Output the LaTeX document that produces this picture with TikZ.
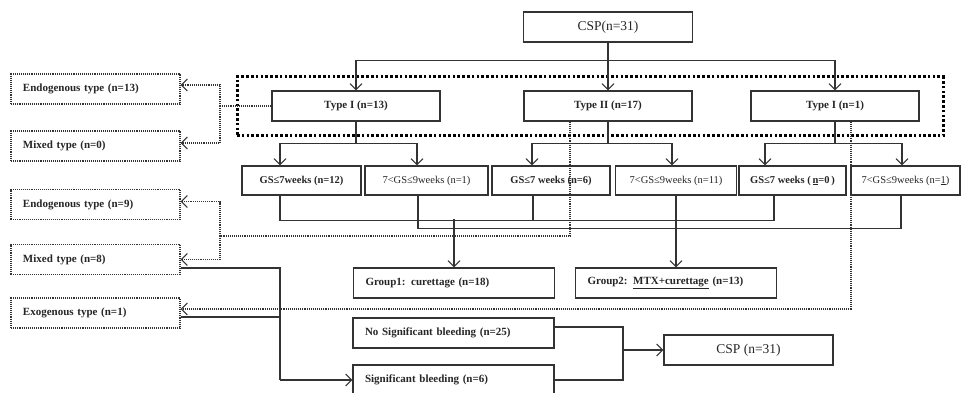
\documentclass[tikz,border=0pt]{standalone}
\usepackage{fontspec}
\setmainfont{Liberation Serif}
\usetikzlibrary{arrows.meta}

\begin{document}
\begin{tikzpicture}[x=1pt, y=-1pt, line width=1.1pt, draw=black!80,
  >={Straight Barb[length=6pt,width=12pt]},
  every node/.style={draw, inner sep=0pt, minimum height=30pt, text=black!85},
  mainbox/.style={font=\fontsize{13.5}{15}\selectfont, minimum width=169pt},
  typebox/.style={font=\bfseries\fontsize{11}{13}\selectfont, minimum width=168pt},
  gsbold/.style={font=\bfseries\fontsize{10.5}{12}\selectfont, minimum height=29pt},
  gsplain/.style={font=\fontsize{10.5}{12}\selectfont, minimum height=29pt},
  groupbox/.style={font=\bfseries\fontsize{11}{13}\selectfont, text width=177pt, inner xsep=12pt, align=left},
  sidebox/.style={densely dotted, font=\bfseries\fontsize{11}{13}\selectfont, text width=145pt, inner xsep=12pt, align=left},
  framebox/.style={draw=black, line width=3pt, dash pattern=on 2.6pt off 2.2pt, minimum width=706pt, minimum height=59pt},
  dotline/.style={densely dotted}]
  \useasboundingbox (0,0) rectangle (961,393);

  % Top
  \node[mainbox] (csp) at (608,27) {CSP(n=31)};

  % Types
  \node[framebox] (frame) at (590,106.5) {};
  \node[typebox] (type1) at (356,106) {Type I (n=13)};
  \node[typebox] (type2) at (608,106) {Type II (n=17)};
  \node[typebox] (type3) at (835,106) {Type I (n=1)};

  % Gestational sac
  \node[gsbold, minimum width=119pt] (gs1) at (301.5,180.5) {GS≤7weeks (n=12)};
  \node[gsplain, minimum width=123pt] (gs2) at (426.5,180.5) {7<GS≤9weeks (n=1)};
  \node[gsbold, minimum width=118pt] (gs3) at (551,180.5) {GS≤7 weeks (n=6)};
  \node[gsplain, minimum width=121pt] (gs4) at (676,180.5) {7<GS≤9weeks (n=11)};
  \node[gsbold, minimum width=107pt] (gs5) at (792.5,180.5) {GS≤7 weeks (\,\underline{n}=0\,)};
  \node[gsplain, minimum width=109pt] (gs6) at (905.5,180.5) {7<GS≤9weeks (n=\underline{1})};

  % Groups
  \node[groupbox] (group1) at (454,283) {Group1: curettage (n=18)};
  \node[groupbox] (group2) at (676,283) {Group2: \underline{MTX+curettage} (n=13)};

  % Outcome
  \node[groupbox] (nosig) at (453.5,333) {No Significant bleeding (n=25)};
  \node[groupbox] (sig) at (453.5,380) {Significant bleeding (n=6)};
  \node[mainbox] (cspend) at (748.5,350) {CSP (n=31)};

  % Subtypes
  \node[sidebox] (endo1) at (95.5,89) {Endogenous type (n=13)};
  \node[sidebox] (mixed1) at (95.5,146) {Mixed type (n=0)};
  \node[sidebox] (endo2) at (95.5,204.5) {Endogenous type (n=9)};
  \node[sidebox] (mixed2) at (95.5,259.5) {Mixed type (n=8)};
  \node[sidebox] (exo) at (95.5,313) {Exogenous type (n=1)};

  % CSP to types
  \draw[->] (csp.south) -- (type2.north);
  \draw[->] ([yshift=-18pt]csp.south) -| (type1.north);
  \draw[->] ([yshift=-18pt]csp.south) -| (type3.north);

  % Types to GS
  \draw[->] (type1.south) -- ++(0,22) -| ([xshift=-21.5pt]gs1.north);
  \draw[->] (type1.south) -- ++(0,22) -| ([xshift=-9.5pt]gs2.north);
  \draw[->] (type2.south) -- ++(0,22) -| ([xshift=-19pt]gs3.north);
  \draw[->] (type2.south) -- ++(0,22) -| ([xshift=-4pt]gs4.north);
  \draw[->] (type3.south) -- ++(0,22) -| ([xshift=-27.5pt]gs5.north);
  \draw[->] (type3.south) -- ++(0,22) -| ([xshift=-3.5pt]gs6.north);

  % GS to groups
  \draw ([xshift=-21.5pt]gs1.south) -- ++(0,25) -| ([xshift=-18.5pt]gs5.south);
  \draw ([xshift=-18pt]gs3.south) -- ++(0,25);
  \draw[->] ([yshift=48pt]group1.north) -- (group1.north);
  \draw ([xshift=-8.5pt]gs2.south) -- ++(0,33) -| ([xshift=-4.5pt]gs6.south);
  \draw[->] (gs4.south) -- (group2.north);

  % Types to subtypes
  \coordinate (j1) at (220,106);
  \draw[dotline] (type1.west) -- (j1);
  \draw[dotline, ->] (j1) |- ([yshift=4pt]endo1.east);
  \draw[dotline, ->] (j1) |- ([yshift=3pt]mixed1.east);
  \coordinate (j2) at (220,236);
  \draw[dotline] ([xshift=-38pt]type2.south) |- (j2);
  \draw[dotline, ->] (j2) |- ([yshift=3pt]endo2.east);
  \draw[dotline, ->] (j2) |- (mixed2.east);
  \draw[dotline, ->] ([xshift=16pt]type3.south) |- ([yshift=4pt]exo.east);

  % Bleeding
  \coordinate (j3) at (280,380);
  \draw ([yshift=-8.5pt]mixed2.east) -| (j3);
  \draw ([yshift=-4pt]exo.east) -| (j3);
  \draw[->] (j3) -- (sig.west);
  \coordinate (j4) at (623,350);
  \draw ([yshift=6pt]nosig.east) -| (j4);
  \draw (sig.east) -| (j4);
  \draw[->] (j4) -- (cspend.west);
\end{tikzpicture}
\end{document}
